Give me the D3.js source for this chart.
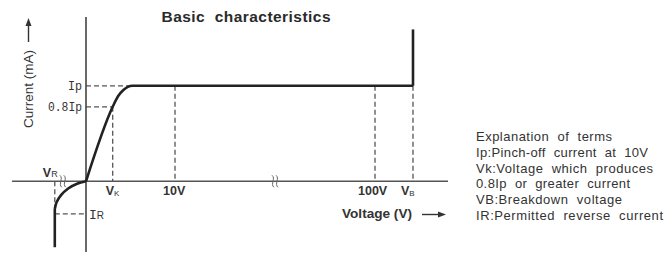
<!DOCTYPE html>
<html>
<head>
<meta charset="utf-8">
<script src="https://cdn.jsdelivr.net/npm/d3@7"></script>
<style>
  html, body { margin: 0; padding: 0; background: #fff; }
  svg { display: block; }
</style>
</head>
<body>
<svg id="chart" width="671" height="262"></svg>
<script>
// ---- data (schematic voltage in V, current in arbitrary mA units) ----
const title = "Basic  characteristics";
const xLabel = "Voltage (V)";
const yLabel = "Current (mA)";
// x axis breakpoints (broken axis) : voltage values
const xDomain = [-8.3, 0, 10, 100, 120, 132];
const yDomain = [-7.4, 17.2];
// tick labels on x axis
const xTickValues = [3, 10, 100, 120];
const xTickMain = ["V", "10V", "100V", "V"];
const xTickSub = ["K", "", "", "B"];
// tick labels on y axis
const yTickValues = [10, 7.8];
const yTickLabels = ["Ip", "0.8Ip"];
// forward characteristic (V, mA)
const forwardV = [0, 3, 3.6, 4.2, 4.7, 5.2, 120];
const forwardI = [0, 7.8, 8.9, 9.55, 9.88, 10, 10];
// breakdown rise at VB
const breakdownV = [120, 120];
const breakdownI = [10, 15.9];
// reverse characteristic
const reverseV = [0, -1, -2, -2.8, -3.3, -3.5];
const reverseI = [0, -0.25, -0.75, -1.45, -2.2, -2.9];
const reverseTailI = [-2.9, -6.9];
// reference markers
const VR = -3.5, IR = -3.4, VK = 3, Ip = 10, Ip08 = 7.8;
const breakPositions = [-2.6, 55];
// legend
const legendLines = [
  "Explanation  of  terms",
  "Ip:Pinch-off  current  at  10V",
  "Vk:Voltage  which  produces",
  "0.8Ip  or  greater  current",
  "VB:Breakdown  voltage",
  "IR:Permitted  reverse  current"
];
const legendWidths = [136, 172, 177, 154, 146, 187];

// ---- drawing ----
const svg = d3.select("#chart");
const x = d3.scaleLinear().domain(xDomain).range([12, 86, 175, 375, 413, 448]);
const y = d3.scaleLinear().domain(yDomain).range([252, 17]);

const axisColor = "#555";
const dashColor = "#555";
const curveColor = "#222";
const textColor = "#333";

// title
svg.append("text").attr("x", 246).attr("y", 22).attr("text-anchor", "middle")
  .attr("font-family", "Liberation Sans, Arial, sans-serif").attr("font-weight", "bold")
  .attr("font-size", 15.5).attr("fill", "#2a2a2a").style("white-space", "pre")
  .attr("textLength", 169).attr("lengthAdjust", "spacing")
  .text(title);

// dashed reference lines
const dashes = [
  [[0, Ip], [5.2, Ip]],
  [[0, Ip08], [VK, Ip08]],
  [[VK, Ip08], [VK, 0]],
  [[10, Ip], [10, 0]],
  [[100, Ip], [100, 0]],
  [[120, Ip], [120, 0]],
  [[VR, 0], [VR, -2.8]],
  [[VR, IR], [0, IR]]
];
const line = d3.line().x(d => x(d[0])).y(d => y(d[1]));
svg.append("g").selectAll("path").data(dashes).join("path")
  .attr("d", line).attr("fill", "none").attr("stroke", dashColor)
  .attr("stroke-width", 1.3).attr("stroke-dasharray", "5,3");

// axes
svg.append("line").attr("x1", x(xDomain[0])).attr("x2", x(xDomain[xDomain.length - 1]))
  .attr("y1", y(0)).attr("y2", y(0)).attr("stroke", axisColor).attr("stroke-width", 1.6);
svg.append("line").attr("x1", x(0)).attr("x2", x(0))
  .attr("y1", y(yDomain[0])).attr("y2", y(yDomain[1])).attr("stroke", "#444").attr("stroke-width", 1.6);

// break marks
breakPositions.forEach(bv => {
  const bx = x(bv), by = y(0);
  [-2, 2].forEach(off => {
    svg.append("path")
      .attr("d", `M${bx + off - 1},${by - 6} C${bx + off + 3},${by - 3} ${bx + off - 3},${by + 3} ${bx + off + 1},${by + 6}`)
      .attr("fill", "none").attr("stroke", "#666").attr("stroke-width", 1);
  });
});

// curves
const fwd = forwardV.map((v, i) => [v, forwardI[i]]);
svg.append("path").attr("d", d3.line().x(d => x(d[0])).y(d => y(d[1])).curve(d3.curveMonotoneX)(fwd))
  .attr("fill", "none").attr("stroke", curveColor).attr("stroke-width", 2.6).attr("stroke-linejoin", "round");
const bd = breakdownV.map((v, i) => [v, breakdownI[i]]);
svg.append("path").attr("d", line(bd))
  .attr("fill", "none").attr("stroke", curveColor).attr("stroke-width", 2.6);
const rev = reverseV.map((v, i) => [v, reverseI[i]]);
svg.append("path").attr("d", d3.line().x(d => x(d[0])).y(d => y(d[1])).curve(d3.curveCatmullRom)(rev))
  .attr("fill", "none").attr("stroke", curveColor).attr("stroke-width", 2.6);
svg.append("path").attr("d", line(reverseTailI.map(iv => [VR, iv])))
  .attr("fill", "none").attr("stroke", curveColor).attr("stroke-width", 2.6);

// y tick labels
svg.append("g").selectAll("text").data(yTickValues).join("text")
  .attr("x", 82).attr("y", d => y(d) + 4).attr("text-anchor", "end")
  .attr("font-family", "Liberation Mono, DejaVu Sans Mono, monospace").attr("font-size", 12.5)
  .attr("fill", textColor)
  .attr("textLength", (d, i) => i === 0 ? 14 : 34).attr("lengthAdjust", "spacingAndGlyphs")
  .text((d, i) => yTickLabels[i]);

// x tick labels
const xt = svg.append("g").attr("font-family", "Liberation Sans, Arial, sans-serif")
  .attr("font-weight", "bold").attr("font-size", 12.5).attr("fill", textColor);
const xOffsets = [-7, -12, -17, -12];
xTickValues.forEach((v, i) => {
  const t = xt.append("text").attr("x", x(v) + xOffsets[i]).attr("y", 195);
  t.append("tspan").text(xTickMain[i]);
  if (xTickSub[i]) t.append("tspan").attr("font-size", 8).attr("font-weight", "normal").attr("dy", 1).text(xTickSub[i]);
});

// VR label
const vr = svg.append("text").attr("x", x(VR) - 12).attr("y", 177)
  .attr("font-family", "Liberation Sans, Arial, sans-serif").attr("font-weight", "bold")
  .attr("font-size", 12.5).attr("fill", textColor);
vr.append("tspan").text("V");
vr.append("tspan").attr("font-size", 9).attr("font-weight", "normal").attr("dy", 0).text("R");

// IR label
const ir = svg.append("text").attr("x", x(0) + 3).attr("y", y(IR) + 5)
  .attr("font-family", "Liberation Mono, monospace").attr("font-size", 13).attr("fill", textColor);
ir.append("tspan").text("I");
ir.append("tspan").attr("font-family", "Liberation Sans, Arial, sans-serif").attr("font-size", 10).text("R");

// axis titles
svg.append("text").attr("x", 342).attr("y", 218)
  .attr("font-family", "Liberation Sans, Arial, sans-serif").attr("font-weight", "bold")
  .attr("font-size", 13).attr("fill", textColor)
  .attr("textLength", 70).attr("lengthAdjust", "spacingAndGlyphs").text(xLabel);
svg.append("line").attr("x1", 422).attr("x2", 441).attr("y1", 214.5).attr("y2", 214.5)
  .attr("stroke", "#333").attr("stroke-width", 1.4);
svg.append("path").attr("d", "M446,214.5 L438,211.5 L438,217.5 Z").attr("fill", "#333");

svg.append("text").attr("transform", "translate(33,128) rotate(-90)")
  .attr("font-family", "Liberation Sans, Arial, sans-serif")
  .attr("font-size", 13.5).attr("fill", textColor)
  .attr("textLength", 78).attr("lengthAdjust", "spacingAndGlyphs").text(yLabel);
svg.append("line").attr("x1", 28.5).attr("x2", 28.5).attr("y1", 42).attr("y2", 24)
  .attr("stroke", "#333").attr("stroke-width", 1.4);
svg.append("path").attr("d", "M28.5,18 L25.5,26 L31.5,26 Z").attr("fill", "#333");

// legend
svg.append("g").selectAll("text").data(legendLines).join("text")
  .attr("x", 476).attr("y", (d, i) => 141 + i * 15.8)
  .attr("font-family", "Liberation Sans, Arial, sans-serif").attr("font-size", 13)
  .attr("fill", "#333").style("white-space", "pre")
  .attr("textLength", (d, i) => legendWidths[i]).attr("lengthAdjust", "spacing")
  .text(d => d);
</script>
</body>
</html>
